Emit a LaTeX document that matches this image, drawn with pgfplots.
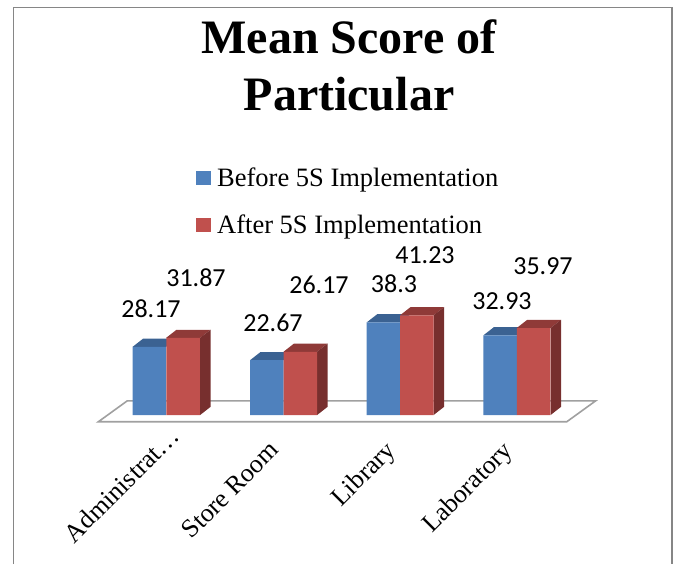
\documentclass[border=0pt]{standalone}
\usepackage{fontspec}
\setmainfont{Liberation Serif}
\newfontfamily\calfont{Carlito}
\usepackage{pgfplots}
\pgfplotsset{compat=1.18}
\definecolor{bluef}{HTML}{4F81BD}
\definecolor{bluet}{HTML}{3B6292}
\definecolor{redf}{HTML}{C0504D}
\definecolor{redt}{HTML}{8F3A38}
\definecolor{reds}{HTML}{772F2E}
\definecolor{floorc}{HTML}{A0A0A0}
\definecolor{framec}{HTML}{868686}
\pgfplotsset{face/.style={draw=none,forget plot,mark=none}}
\newcommand{\dl}[3]{\node[font=\calfont\fontsize{26}{28}\selectfont,inner sep=0pt,anchor=center] at (axis cs:#1,{(415-#2)/2.42}) {#3};}
\begin{document}
\begin{tikzpicture}
\begin{axis}[
  width=678pt,height=564pt,scale only axis,
  xmin=0,xmax=678,ymin=-61.57,ymax=171.49,
  axis line style={draw=none},
  major tick length=0pt,
  ytick=\empty,
  xtick={140,254,370,487},
  xticklabels={Administrat…\kern-20pt,Store Room,Library,Laboratory},
  xticklabel style={xshift=14pt,yshift=125pt,rotate=45,anchor=north east,inner sep=0pt,font=\fontsize{26}{28}\selectfont},
  legend style={at={(axis cs:196,{(415-166)/2.42})},anchor=north west,draw=none,fill=none,inner sep=0pt,
    row sep=22pt,font=\fontsize{26.5}{30}\selectfont,
    /tikz/every odd column/.append style={column sep=4pt}},
  legend cell align=left,
  legend image code/.code={\fill[#1,draw=none] (0pt,-7pt) rectangle (15pt,7pt);},
]
% floor
\addplot[draw=floorc,line width=1.6pt,forget plot,mark=none] coordinates {(98.3,-2.77)(127.3,5.9)(595.7,5.9)(566.7,-2.77)} --cycle;
% blue tops
\addplot[face,fill=bluet] coordinates {(132.5,28.17)(143,31.56)(176.5,31.56)(166,28.17)} --cycle;
\addplot[face,fill=bluet] coordinates {(250,22.67)(260.5,26.06)(294,26.06)(283.5,22.67)} --cycle;
\addplot[face,fill=bluet] coordinates {(366.7,38.3)(377.2,41.69)(410.5,41.69)(400,38.3)} --cycle;
\addplot[face,fill=bluet] coordinates {(483.3,32.93)(493.8,36.32)(527.2,36.32)(516.7,32.93)} --cycle;
% blue fronts
\addplot[ybar,bar width=33.5pt,bar shift=0pt,fill=bluef,draw=none] coordinates {(149.25,28.17)(266.75,22.67)(383.35,38.3)(500,32.93)};
\addlegendentry{Before 5S Implementation}
% red tops
\addplot[face,fill=redt] coordinates {(166,31.87)(176.5,35.26)(210.5,35.26)(200,31.87)} --cycle;
\addplot[face,fill=redt] coordinates {(283.5,26.17)(294,29.56)(327.5,29.56)(317,26.17)} --cycle;
\addplot[face,fill=redt] coordinates {(400,41.23)(410.5,44.62)(444,44.62)(433.5,41.23)} --cycle;
\addplot[face,fill=redt] coordinates {(516.7,35.97)(527.2,39.36)(561,39.36)(550.5,35.97)} --cycle;
% red sides
\addplot[face,fill=reds] coordinates {(200,0)(210.5,3.39)(210.5,35.26)(200,31.87)} --cycle;
\addplot[face,fill=reds] coordinates {(317,0)(327.5,3.39)(327.5,29.56)(317,26.17)} --cycle;
\addplot[face,fill=reds] coordinates {(433.5,0)(444,3.39)(444,44.62)(433.5,41.23)} --cycle;
\addplot[face,fill=reds] coordinates {(550.5,0)(561,3.39)(561,39.36)(550.5,35.97)} --cycle;
% red fronts
\addplot[ybar,bar width=33.5pt,bar shift=0pt,fill=redf,draw=none] coordinates {(183,31.87)(300.25,26.17)(416.75,41.23)(533.6,35.97)};
\addlegendentry{After 5S Implementation}
% data labels
\dl{151}{309}{28.17}
\dl{196}{278}{31.87}
\dl{273}{323}{22.67}
\dl{319}{285}{26.17}
\dl{394}{284}{38.3}
\dl{425}{255}{41.23}
\dl{502}{301}{32.93}
\dl{543}{266}{35.97}
% title
\node[font=\bfseries\fontsize{48}{57}\selectfont,align=center,anchor=north,inner sep=0pt] at (axis cs:349,{(415-19.5)/2.42}) {Mean Score of\\Particular};
% frame
\draw[framec,line width=1.5pt] (axis cs:13.5,-61.57) -- (axis cs:13.5,{(415-7.5)/2.42}) -- (axis cs:672,{(415-7.5)/2.42}) -- (axis cs:672,-61.57);
\end{axis}
\end{tikzpicture}
\end{document}
